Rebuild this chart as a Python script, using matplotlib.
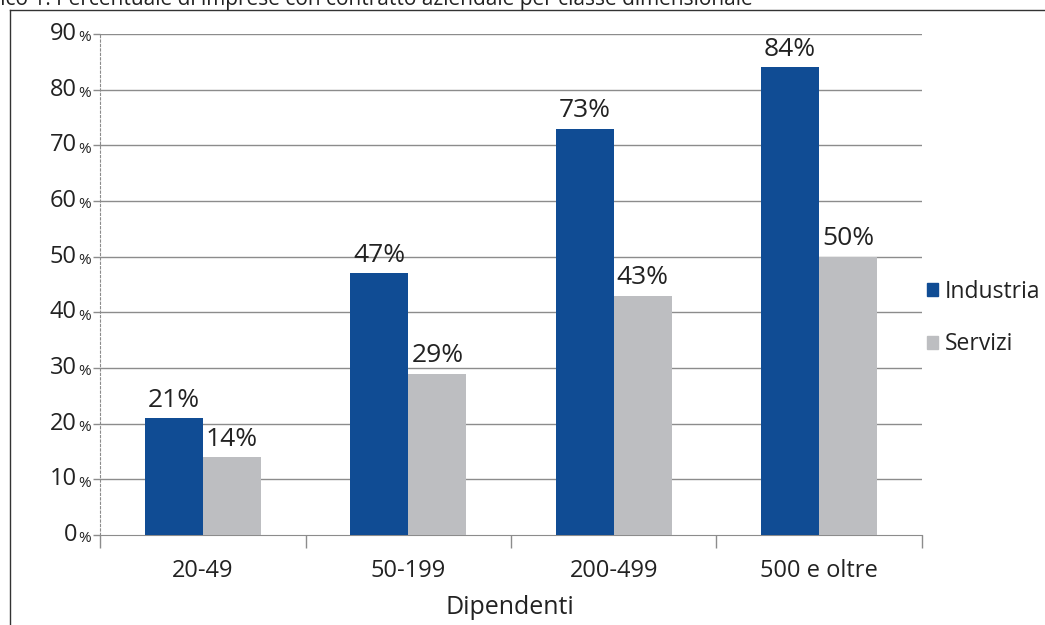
import matplotlib.pyplot as plt
import matplotlib.transforms as mtransforms
from matplotlib.lines import Line2D
from matplotlib.patches import Patch
import numpy as np

plt.rcParams['font.family'] = ['Open Sans', 'DejaVu Sans']

# dati
categorie = ['20-49', '50-199', '200-499', '500 e oltre']
industria = [21, 47, 73, 84]
servizi = [14, 29, 43, 50]
yticks = [0, 10, 20, 30, 40, 50, 60, 70, 80, 90]

blu = '#104C94'
grigio = '#BDBEC1'
testo = '#222222'

fig = plt.figure(figsize=(10.45, 6.25), dpi=100)
ax = fig.add_axes([100 / 1045, 1 - 535 / 625, 822 / 1045, 501 / 625])

x = np.arange(len(categorie))
w = 0.283
b1 = ax.bar(x - w / 2, industria, w, color=blu, zorder=3)
b2 = ax.bar(x + w / 2, servizi, w, color=grigio, zorder=3)

# etichette dei valori sopra le barre
for rects, vals in [(b1, industria), (b2, servizi)]:
    for r, v in zip(rects, vals):
        ax.annotate(f'{v}%', (r.get_x() + r.get_width() / 2, v),
                    xytext=(0, 4), textcoords='offset points',
                    ha='center', va='bottom', fontsize=19, color=testo, zorder=4)

ax.set_xlim(-0.5, 3.5)
ax.set_ylim(0, 90)

# griglia orizzontale
for t in yticks[1:]:
    ax.axhline(t, color='#8c8c8c', lw=1, zorder=1)

for s in ['top', 'right']:
    ax.spines[s].set_visible(False)
ax.spines['left'].set_linestyle((0, (2, 2)))
ax.spines['left'].set_color('#8c8c8c')
ax.spines['bottom'].set_color('#8c8c8c')

# tick asse x ai confini delle categorie
ax.set_xticks(np.arange(-0.5, 4, 1))
ax.set_xticklabels([])
ax.tick_params(axis='x', length=9, color='#8c8c8c', width=1)
for i, c in enumerate(categorie):
    ax.text(i, -4.4, c, ha='center', va='top', fontsize=17, color=testo)

# tick asse y con "%" più piccolo
ax.set_yticks(yticks)
ax.set_yticklabels([])
ax.tick_params(axis='y', length=5, color='#8c8c8c', width=1)
trans = mtransforms.blended_transform_factory(fig.transFigure, ax.transData)
for t in yticks:
    ax.text(77 / 1045, t, str(t), transform=trans, ha='right', va='center',
            fontsize=17, color=testo)
    ax.text(78 / 1045, t - 0.7, '%', transform=trans, ha='left', va='center',
            fontsize=11, color=testo)

fig.text(510 / 1045, 1 - 607 / 625, 'Dipendenti', ha='center', va='center',
         fontsize=18, color=testo)

handles = [Patch(color=blu), Patch(color=grigio)]
fig.legend(handles, ['Industria', 'Servizi'], loc='center left',
           bbox_to_anchor=(920 / 1045, 1 - 318 / 625), frameon=False,
           fontsize=16.5, handlelength=0.5, handleheight=0.5,
           handletextpad=0.3, labelspacing=1.25, labelcolor=testo,
           borderaxespad=0, borderpad=0.3)

# cornice e titolo tagliato
fig.add_artist(Line2D([10 / 1045, 10 / 1045], [0, 1 - 10 / 625],
                      transform=fig.transFigure, color='#333333', lw=1))
fig.add_artist(Line2D([10 / 1045, 1], [1 - 10 / 625, 1 - 10 / 625],
                      transform=fig.transFigure, color='#333333', lw=1))
fig.text(-0.04, 1.0, 'Grafico 1. Percentuale di imprese con contratto aziendale per classe dimensionale',
         ha='left', va='center', fontsize=15, color=testo)

fig.savefig('out.png', dpi=100)
